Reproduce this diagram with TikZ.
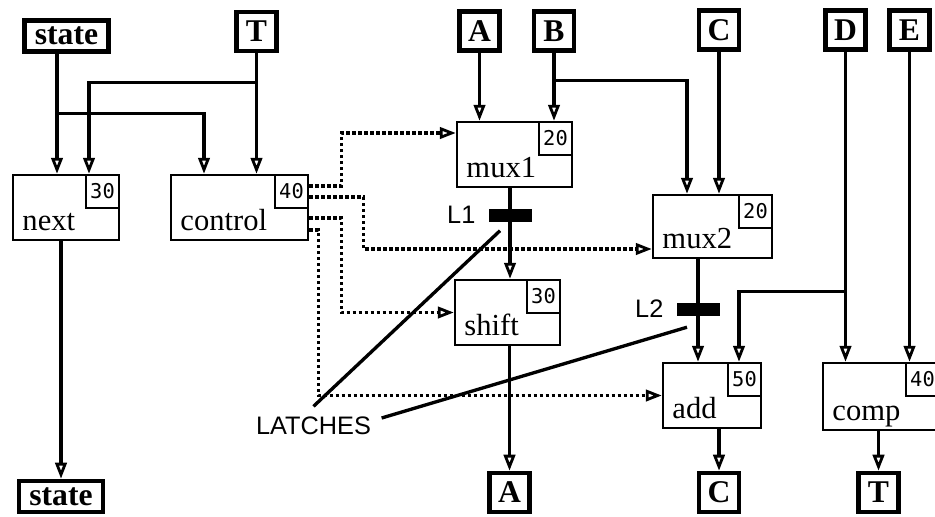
\documentclass[tikz,border=0pt]{standalone}
\usepackage{fontspec}
\setmainfont{Liberation Serif}
\newfontfamily\latchfont{Liberation Sans}
\newfontfamily\numfont{DejaVu Sans Mono}
\usetikzlibrary{arrows.meta,positioning,calc}

\begin{document}
\begin{tikzpicture}[x=0.1mm,y=-0.1mm,
  iobox/.style={draw,line width=1.3pt,minimum width=4mm,minimum height=3.9mm,inner sep=0pt,
    font=\fontsize{9}{10}\selectfont\bfseries},
  statebox/.style={iobox,minimum width=8.4mm,minimum height=3.1mm},
  fbox/.style={draw,line width=0.7pt,minimum height=6.5mm,inner sep=0pt},
  flabel/.style={anchor=base west,xshift=1mm,yshift=1.1mm,inner sep=0pt,font=\fontsize{8.7}{10}\selectfont},
  numbox/.style={draw,line width=0.7pt,minimum width=3.3mm,minimum height=3.3mm,inner sep=0pt,
    anchor=north east,font=\numfont\fontsize{5.8}{7}\selectfont},
  lfont/.style={font=\latchfont\fontsize{7.2}{8}\selectfont},
  latch/.style={fill=black,minimum width=4.3mm,minimum height=1.3mm,inner sep=0pt,label distance=0.6mm},
  wire/.style={line width=0.95pt},
  feed/.style={wire,-{Triangle[open,length=1.6mm,width=1.15mm,line width=0.8pt]}},
  ctl/.style={feed,dash pattern=on 0.33mm off 0.27mm}]
  \useasboundingbox (0,0) rectangle (935,516);
  \clip (0,0) rectangle (935,516);
  \node[statebox] (st1) at (66.5,36) {state};
  \node[iobox] (t1) at (256.5,31.5) {T};
  \node[iobox] (a1) at (479.5,31) {A};
  \node[iobox] (b1) at (554,31) {B};
  \node[iobox] (c1) at (719,30) {C};
  \node[iobox] (d1) at (845.5,30) {D};
  \node[iobox] (e1) at (909.5,30) {E};
  \node[fbox,minimum width=10.6mm,label={[flabel]south west:next}] (next) at (66,207.5) {};
  \node[numbox] (n1) at (next.north east) {30};
  \node[fbox,minimum width=13.7mm,label={[flabel]south west:control}] (ctrl) at (239.5,207.5) {};
  \node[numbox] (n2) at (ctrl.north east) {40};
  \node[fbox,minimum width=11.5mm,label={[flabel]south west:mux1}] (mux1) at (514.5,154.5) {};
  \node[numbox] (n3) at (mux1.north east) {20};
  \node[fbox,minimum width=11.9mm,minimum height=6.3mm,label={[flabel]south west:mux2}] (mux2) at (712.5,226.5) {};
  \node[numbox] (n4) at (mux2.north east) {20};
  \node[fbox,minimum width=10.5mm,label={[flabel]south west:shift}] (shift) at (507.5,312.5) {};
  \node[numbox] (n5) at (shift.north east) {30};
  \node[fbox,minimum width=9.8mm,label={[flabel]south west:add}] (add) at (712,395.5) {};
  \node[numbox] (n6) at (add.north east) {50};
  \node[fbox,minimum width=11.6mm,minimum height=6.7mm,label={[flabel]south west:comp}] (comp) at (881,396.5) {};
  \node[numbox] (n7) at (comp.north east) {40};
  \node[latch,label={[lfont]left:L1}] (l1) at (510,215) {};
  \node[latch,label={[lfont]left:L2}] (l2) at (698,309) {};
  \node[statebox] (st2) at (61,496.5) {state};
  \node[iobox] (a2) at (509.5,492.5) {A};
  \node[iobox] (c2) at (719,492.5) {C};
  \node[iobox] (t2) at (878.5,492.5) {T};
  \node[lfont,inner sep=1mm] (latches) at (313.5,426) {LATCHES};
  \draw[feed] ($(st1.south)+(-9.5,0)$) -- ($(next.north)+(-9,0)$);
  \draw[feed] ($(st1.south)+(-9.5,60)$) -| ($(ctrl.north)+(-35.5,0)$);
  \draw[feed] (t1.south) -- (t1.south |- ctrl.north);
  \draw[feed] ($(t1.south)+(0,29)$) -| ($(next.north)+(23,0)$);
  \draw[feed] (a1.south) -- (a1.south |- mux1.north);
  \draw[feed] (b1.south) -- (b1.south |- mux1.north);
  \draw[feed] ($(b1.south)+(0,28)$) -| ($(mux2.north)+(-25.5,0)$);
  \draw[feed] (c1.south) -- (c1.south |- mux2.north);
  \draw[feed] (d1.south) -- (d1.south |- comp.north);
  \draw[feed] ($(d1.south)+(0,240)$) -| ($(add.north)+(27,0)$);
  \draw[feed] (e1.south) -- (e1.south |- comp.north);
  \draw[feed] (l1 |- mux1.south) -- (l1 |- shift.north);
  \draw[feed] (l2 |- mux2.south) -- (l2 |- add.north);
  \draw[feed] (st2.north |- next.south) -- (st2.north);
  \draw[feed] (a2.north |- shift.south) -- (a2.north);
  \draw[feed] (c2.north |- add.south) -- (c2.north);
  \draw[feed] (t2.north |- comp.south) -- (t2.north);
  \draw[ctl] ($(ctrl.east)+(0,-21.5)$) -- ++(32,0) |- ($(mux1.west)+(0,-21.5)$);
  \draw[ctl] ($(ctrl.east)+(0,-10.5)$) -- ++(54,0) |- ($(mux2.west)+(0,22.5)$);
  \draw[ctl] ($(ctrl.east)+(0,10.5)$) -- ++(32,0) |- (shift.west);
  \draw[ctl] ($(ctrl.east)+(0,22.5)$) -- ++(9,0) |- (add.west);
  \draw[wire] (latches.north) -- ($(l1.south)+(-10,8.5)$);
  \draw[wire] ($(latches.east)+(0,-8)$) -- ($(l2.south)+(-11,11)$);
\end{tikzpicture}
\end{document}
